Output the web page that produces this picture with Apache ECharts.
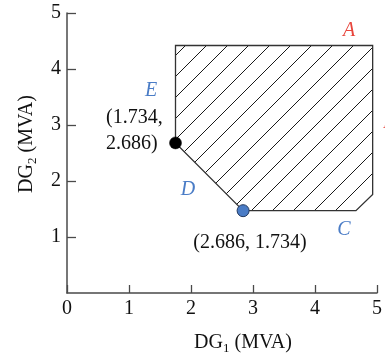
<!DOCTYPE html>
<html><head><meta charset="utf-8">
<script src="https://cdn.jsdelivr.net/npm/echarts@6/dist/echarts.min.js"></script>
<style>html,body{margin:0;padding:0;background:#fff}#c{width:385px;height:360px}</style>
</head><body><div id="c"></div>
<script>
// Feasible region vertices (E, top-left, A corner, right, C corner, D)
const regionX = [1.75, 1.75, 4.93, 4.93, 4.66, 2.84];
const regionY = [2.68, 4.42, 4.42, 1.76, 1.47, 1.47];
// Marked points
const blackPointX = [1.75];
const blackPointY = [2.68];
const bluePointX = [2.84];
const bluePointY = [1.47];
// Axis ticks
const xTickValues = [0, 1, 2, 3, 4, 5];
const yTickValues = [1, 2, 3, 4, 5];

const SERIF = '"Liberation Serif", "DejaVu Serif", serif';

// hatch pattern
const pc = document.createElement('canvas');
const P = 21;
pc.width = P; pc.height = P;
const g = pc.getContext('2d');
g.strokeStyle = '#1a1a1a';
g.lineWidth = 1;
g.beginPath();
g.moveTo(-2, P + 2); g.lineTo(P + 2, -2);
g.moveTo(-2, 2); g.lineTo(2, -2);
g.moveTo(P - 2, P + 2); g.lineTo(P + 2, P - 2);
g.stroke();

const chart = echarts.init(document.getElementById('c'), null, {renderer: 'canvas'});
const regionData = regionX.map((x, i) => [x, regionY[i]]);

const nameRich = {
  a: {fontFamily: SERIF, fontSize: 20, color: '#111', lineHeight: 24},
  s: {fontFamily: SERIF, fontSize: 13, color: '#111', lineHeight: 14, verticalAlign: 'bottom'}
};

chart.setOption({
  animation: false,
  grid: {left: 67, right: 5, top: 13, bottom: 63, containLabel: false},
  xAxis: {
    type: 'value', min: xTickValues[0], max: xTickValues[xTickValues.length - 1], interval: 1,
    axisLine: {show: true, lineStyle: {color: '#4a4a4a', width: 1.5}},
    axisTick: {show: true, inside: true, length: 8, lineStyle: {color: '#4a4a4a', width: 1.3}},
    splitLine: {show: false},
    axisLabel: {fontFamily: SERIF, fontSize: 20, color: '#111', margin: 6},
    name: '{a|DG}{s|1}{a| (MVA)}',
    nameLocation: 'middle', nameGap: 38,
    nameTextStyle: {rich: nameRich, padding: [0, 0, 0, 42]}
  },
  yAxis: {
    type: 'value', min: 0, max: 5, interval: 1,
    axisLine: {show: true, lineStyle: {color: '#4a4a4a', width: 1.5}},
    axisTick: {show: true, inside: true, length: 9, lineStyle: {color: '#4a4a4a', width: 1.3}},
    splitLine: {show: false},
    axisLabel: {fontFamily: SERIF, fontSize: 20, color: '#111', margin: 6, showMinLabel: false,
      formatter: v => yTickValues.includes(v) ? String(v) : ''},
    name: '{a|DG}{s|2}{a| (MVA)}',
    nameLocation: 'middle', nameGap: 28, nameRotate: 90,
    nameTextStyle: {rich: nameRich, padding: [0, 0, 0, 18]}
  },
  series: [
    {
      type: 'custom',
      data: regionData,
      renderItem: function (params, api) {
        if (params.dataIndex !== 0) return null;
        const pts = regionData.map(d => api.coord(d));
        return {
          type: 'polygon',
          shape: {points: pts},
          style: {fill: {image: pc, repeat: 'repeat'}, stroke: '#333', lineWidth: 1.3}
        };
      },
      z: 2
    },
    {
      type: 'scatter',
      data: blackPointX.map((x, i) => [x, blackPointY[i]]),
      symbolSize: 12,
      itemStyle: {color: '#000', borderColor: '#000', borderWidth: 0.5, opacity: 1},
      z: 5
    },
    {
      type: 'scatter',
      data: bluePointX.map((x, i) => [x, bluePointY[i]]),
      symbolSize: 12,
      itemStyle: {color: '#4a7cc6', borderColor: '#22385e', borderWidth: 1, opacity: 1},
      z: 5
    }
  ],
  graphic: [
    {type: 'text', x: 349, y: 31, style: {text: 'A', fill: '#e8453c', font: 'italic 20px ' + SERIF, align: 'center', verticalAlign: 'middle'}},
    {type: 'text', x: 383, y: 123, style: {text: 'B', fill: '#e8453c', font: 'italic 20px ' + SERIF, align: 'left', verticalAlign: 'middle'}},
    {type: 'text', x: 151, y: 91, style: {text: 'E', fill: '#4a7cc6', font: 'italic 20px ' + SERIF, align: 'center', verticalAlign: 'middle'}},
    {type: 'text', x: 188, y: 190, style: {text: 'D', fill: '#4a7cc6', font: 'italic 20px ' + SERIF, align: 'center', verticalAlign: 'middle'}},
    {type: 'text', x: 344, y: 230, style: {text: 'C', fill: '#4a7cc6', font: 'italic 20px ' + SERIF, align: 'center', verticalAlign: 'middle'}},
    {type: 'text', x: 106, y: 105, style: {text: '(1.734,\n2.686)', fill: '#111', font: '20px ' + SERIF, lineHeight: 26, align: 'left', verticalAlign: 'top'}},
    {type: 'text', x: 250, y: 243, style: {text: '(2.686, 1.734)', fill: '#111', font: '20px ' + SERIF, align: 'center', verticalAlign: 'middle'}}
  ]
});
</script>
</body></html>
